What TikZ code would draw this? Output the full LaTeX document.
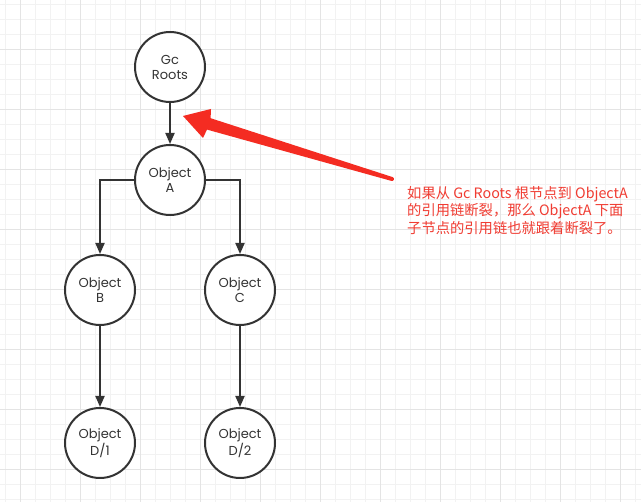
\documentclass[tikz,border=0pt]{standalone}
\usepackage{fontspec}
\usetikzlibrary{arrows.meta}
\newfontfamily\nodefont{Poppins}
\newfontfamily\cjk{Noto Sans CJK SC}
\definecolor{gridminor}{RGB}{242,242,242}
\definecolor{gridmajor}{RGB}{228,228,228}
\definecolor{edgecol}{RGB}{51,51,51}
\definecolor{annored}{RGB}{244,44,34}
\definecolor{textred}{RGB}{240,60,50}
\tikzset{
  obj/.style={circle,draw=edgecol,line width=2pt,fill=white,minimum size=70pt,inner sep=0pt,
    align=center,font=\nodefont\fontsize{13}{15}\selectfont,text=edgecol},
  conn/.style={draw=edgecol,line width=2pt,-{Triangle[length=11pt,width=9pt]}},
}
\begin{document}
\begin{tikzpicture}[x=1pt,y=-1pt]
\useasboundingbox (0,0) rectangle (641,502);
\fill[white] (0,0) rectangle (641,502);
% grid
\foreach \x in {5,20,...,641} \draw[gridminor,line width=1pt] (\x,0) -- (\x,502);
\foreach \y in {5,20,...,502} \draw[gridminor,line width=1pt] (0,\y) -- (641,\y);
\foreach \x in {20,80,...,641} \draw[gridmajor,line width=1pt] (\x,0) -- (\x,502);
\foreach \y in {50,110,...,502} \draw[gridmajor,line width=1pt] (0,\y) -- (641,\y);
% nodes
\node[obj] (gc) at (170,67) {Gc\\Roots};
\node[obj] (a) at (170,180) {Object\\A};
\node[obj] (b) at (100,290) {Object\\B};
\node[obj] (c) at (240,290) {Object\\C};
\node[obj] (d1) at (100,443) {Object\\D/1};
\node[obj] (d2) at (240,443) {Object\\D/2};
% connectors
\draw[conn] (gc) -- (a);
\draw[conn] (a.west) -| (b);
\draw[conn] (a.east) -| (c);
\draw[conn] (b) -- (d1);
\draw[conn] (c) -- (d2);
% annotation
\coordinate (tip) at (183,116);
\coordinate (tail) at (392,179);
\fill[annored] (tip) -- (211,109) -- (210.6,118.2) -- (392.6,177.1)
  arc[start angle=-73,end angle=107,radius=2] -- (207.0,129.6) -- (203,138) -- cycle;
\node[anchor=north west,align=left,text=textred,inner sep=0pt,
  font=\cjk\fontsize{14.3}{17.5}\selectfont] (note) at (407,186)
  {如果从 Gc Roots 根节点到 ObjectA\\的引用链断裂，那么 ObjectA 下面\\子节点的引用链也就跟着断裂了。};
\end{tikzpicture}
\end{document}
